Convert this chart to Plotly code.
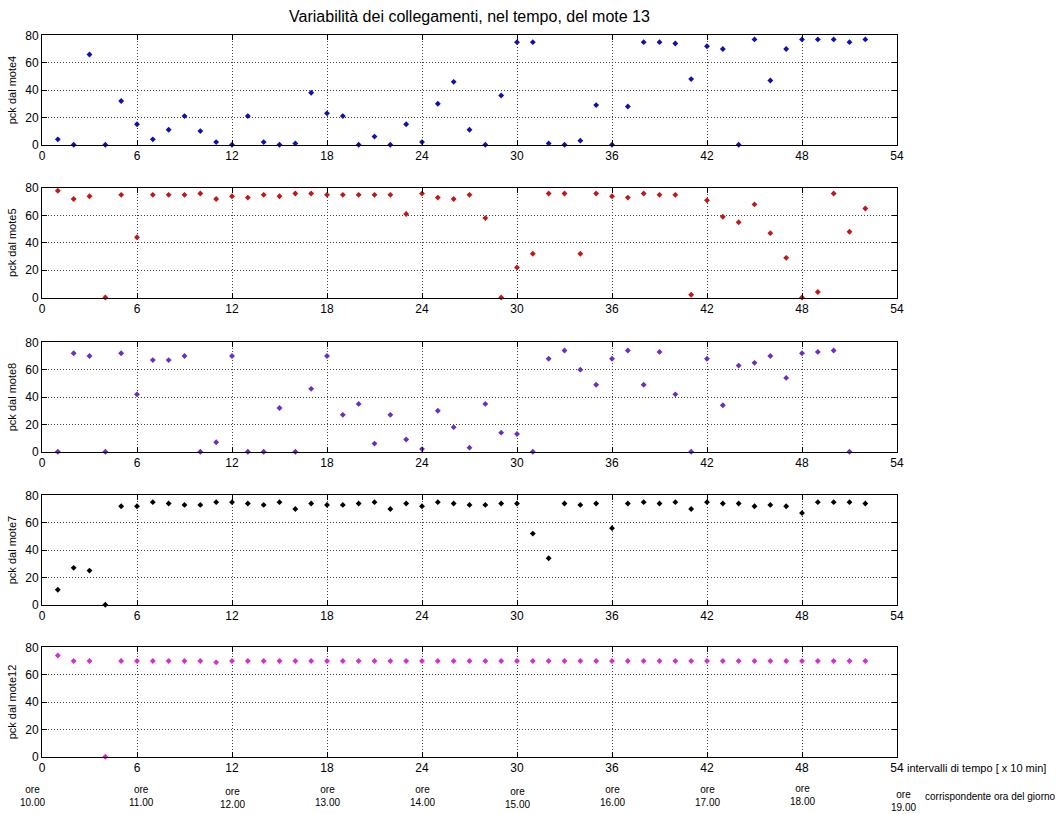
import plotly.graph_objects as go

# ---------------- data ----------------
intervals = list(range(1, 53))

mote4 = [4, 0, 66, 0, 32, 15, 4, 11, 21, 10, 2, 0, 21, 2, 0, 1, 38, 23, 21, 0,
         6, 0, 15, 2, 30, 46, 11, 0, 36, 75, 75, 1, 0, 3, 29, 0, 28, 75, 75, 74,
         48, 72, 70, 0, 77, 47, 70, 77, 77, 77, 75, 77]
mote5 = [78, 72, 74, 0, 75, 44, 75, 75, 75, 76, 72, 74, 73, 75, 74, 76, 76, 75, 75, 75,
         75, 75, 61, 76, 73, 72, 75, 58, 0, 22, 32, 76, 76, 32, 76, 74, 73, 76, 75, 75,
         2, 71, 59, 55, 68, 47, 29, 0, 4, 76, 48, 65]
mote8 = [0, 72, 70, 0, 72, 42, 67, 67, 70, 0, 7, 70, 0, 0, 32, 0, 46, 70, 27, 35,
         6, 27, 9, 2, 30, 18, 3, 35, 14, 13, 0, 68, 74, 60, 49, 68, 74, 49, 73, 42,
         0, 68, 34, 63, 65, 70, 54, 72, 73, 74, 0, None]
mote7 = [11, 27, 25, 0, 72, 72, 75, 74, 73, 73, 75, 75, 74, 73, 75, 70, 74, 73, 73, 74,
         75, 70, 74, 72, 75, 74, 73, 73, 74, 74, 52, 34, 74, 73, 74, 56, 74, 75, 74, 75,
         70, 75, 74, 74, 72, 73, 72, 67, 75, 75, 75, 74]
mote12 = [74, 70, 70, 0, 70, 70, 70, 70, 70, 70, 69, 70, 70, 70, 70, 70, 70, 70, 70, 70,
          70, 70, 70, 70, 70, 70, 70, 70, 70, 70, 70, 70, 70, 70, 70, 70, 70, 70, 70, 70,
          70, 70, 70, 70, 70, 70, 70, 70, 70, 70, 70, 70]

series_names = ["mote4", "mote5", "mote8", "mote7", "mote12"]
series_values = [mote4, mote5, mote8, mote7, mote12]

x_ticks = [0, 6, 12, 18, 24, 30, 36, 42, 48, 54]
y_ticks = [0, 20, 40, 60, 80]
hour_labels = ["10.00", "11.00", "12.00", "13.00", "14.00",
               "15.00", "16.00", "17.00", "18.00", "19.00"]

title_text = "Variabilità dei collegamenti, nel tempo, del mote 13"
x_caption = "intervalli di tempo [ x 10 min]"
hour_caption = "corrispondente ora del giorno"

# ---------------- styles / layout ----------------
colors = ["#1010b0", "#c01818", "#6a2fc0", "#000000", "#d030d0"]
W, H = 1057, 814
ML, MR, MT, MB = 42, 160, 35, 57
plot_h = H - MT - MB
panel_tops = [35.3, 188.0, 342.3, 495.3, 647.3]
panel_h = 109.5

font_family = "Liberation Sans, Arial, sans-serif"

fig = go.Figure()
layout = dict(
    width=W, height=H,
    margin=dict(l=ML, r=MR, t=MT, b=MB),
    paper_bgcolor="white", plot_bgcolor="white",
    showlegend=False,
    font=dict(family=font_family, size=12, color="black"),
    title=dict(text=title_text, x=(0.5 * (W - ML - MR) + ML) / W, xanchor="center",
               y=1 - 16 / H, yanchor="middle", yref="container",
               font=dict(size=16, family=font_family)),
)

for i, (name, vals) in enumerate(zip(series_names, series_values)):
    idx = "" if i == 0 else str(i + 1)
    top = panel_tops[i]
    d1 = 1 - (top - MT) / plot_h
    d0 = 1 - (top + panel_h - MT) / plot_h
    fig.add_trace(go.Scatter(
        x=intervals, y=vals, mode="markers",
        marker=dict(symbol="diamond", size=4.5, color=colors[i]),
        xaxis="x" + idx, yaxis="y" + idx, cliponaxis=False, name=name))
    axcommon = dict(showline=True, linecolor="black", linewidth=1, mirror="allticks",
                    ticks="inside", ticklen=5, tickcolor="black",
                    showgrid=True, gridcolor="#444444", griddash="1px,2px", gridwidth=1,
                    zeroline=False, tickfont=dict(size=12, family=font_family))
    layout["xaxis" + idx] = dict(axcommon, range=[0, 54], tickvals=x_ticks,
                                 anchor="y" + idx, domain=[0, 1])
    layout["yaxis" + idx] = dict(axcommon, range=[0, 80], tickvals=y_ticks,
                                 anchor="x" + idx, domain=[max(d0, 0), min(d1, 1)],
                                 title=dict(text="pck dal " + name, standoff=6,
                                            font=dict(size=11, family=font_family)))

fig.update_layout(**layout)

def py(px):
    return 1 - (px - MT) / plot_h

annots = []
annots.append(dict(text=x_caption, xref="paper", yref="paper",
                   x=(905 - ML) / (W - ML - MR), y=py(768), xanchor="left", yanchor="middle",
                   showarrow=False, font=dict(size=11, family=font_family)))
annots.append(dict(text=hour_caption, xref="paper", yref="paper",
                   x=(923 - ML) / (W - ML - MR), y=py(797), xanchor="left", yanchor="middle",
                   showarrow=False, font=dict(size=10, family=font_family)))
hour_xshift = [-10, 4, 0, 0, 0, 0, 0, 0, 0, 6]
hour_yshift = [0, 0, -2, 0, 0, -2, 0, 0, 1, -5]
for xv, lab, xs, ys in zip(x_ticks, hour_labels, hour_xshift, hour_yshift):
    annots.append(dict(text="ore<br>" + lab, xref="x5", yref="paper",
                       x=xv, y=py(796), xanchor="center", yanchor="middle",
                       xshift=xs, yshift=ys, showarrow=False, align="center",
                       font=dict(size=10, family=font_family)))
fig.update_layout(annotations=annots)

fig.write_html("out.html")
